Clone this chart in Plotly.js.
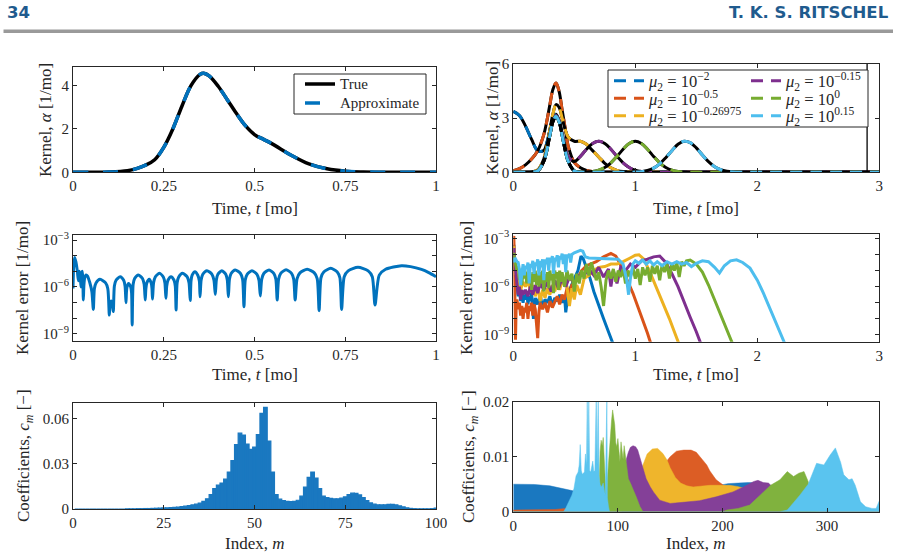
<!DOCTYPE html>
<html>
<head>
<meta charset="utf-8">
<script src="https://cdn.plot.ly/plotly-3.0.1.min.js"></script>
<style>
  html, body { margin: 0; padding: 0; background: #fff; }
  #fig { width: 898px; height: 559px; }
</style>
</head>
<body>
<div id="fig"></div>
<script>
// ---------- Kernel: true vs approximate (top left) ----------
const kernelT    = [0, 0.05, 0.1, 0.15, 0.175, 0.2, 0.225, 0.25, 0.275, 0.3, 0.325, 0.35, 0.36, 0.375, 0.4, 0.425, 0.45, 0.475, 0.5, 0.525, 0.55, 0.6, 0.65, 0.7, 0.75, 0.8, 0.85, 0.9, 1.0];
const kernelTrue = [0, 0.002, 0.01, 0.07, 0.17, 0.33, 0.58, 1.15, 2.0, 3.05, 4.0, 4.52, 4.57, 4.45, 3.97, 3.35, 2.72, 2.15, 1.74, 1.52, 1.3, 0.8, 0.39, 0.16, 0.05, 0.015, 0.004, 0.001, 0];

// ---------- Kernels for different mu2 (top right) ----------
const muT      = [0, 0.05, 0.1, 0.15, 0.2, 0.25, 0.275, 0.3, 0.325, 0.35, 0.375, 0.4, 0.425, 0.45, 0.5, 0.55, 0.6, 0.65, 0.7, 0.75, 0.8, 0.85, 0.9, 0.95, 1.0, 1.05, 1.1, 1.15, 1.2, 1.25, 1.3, 1.35, 1.4, 1.45, 1.5, 1.55, 1.6, 1.65, 1.7, 1.75, 1.8, 1.9, 2.0, 2.5, 3.0];
const muBlue   = [3.37, 3.15, 2.56, 1.82, 1.2, 1.21, 1.64, 2.34, 2.99, 3.22, 2.87, 2.09, 1.25, 0.61, 0.08, 0.004, 0, 0, 0, 0, 0, 0, 0, 0, 0, 0, 0, 0, 0, 0, 0, 0, 0, 0, 0, 0, 0, 0, 0, 0, 0, 0, 0, 0, 0];
const muOrange = [0.083, 0.199, 0.41, 0.734, 1.195, 2.09, 2.84, 3.75, 4.6, 4.95, 4.5, 3.47, 2.46, 1.45, 0.55, 0.25, 0.1, 0.04, 0.015, 0.005, 0.002, 0, 0, 0, 0, 0, 0, 0, 0, 0, 0, 0, 0, 0, 0, 0, 0, 0, 0, 0, 0, 0, 0, 0, 0];
const muYellow = [0, 0, 0.003, 0.023, 0.131, 0.74, 1.435, 2.36, 3.24, 3.75, 3.6, 3.01, 2.38, 1.95, 1.72, 1.72, 1.55, 1.2, 0.85, 0.5, 0.25, 0.11, 0.04, 0.012, 0.003, 0, 0, 0, 0, 0, 0, 0, 0, 0, 0, 0, 0, 0, 0, 0, 0, 0, 0, 0, 0];
const muPurple = [0, 0, 0, 0.004, 0.076, 0.604, 1.228, 2.065, 2.827, 3.146, 2.876, 2.17, 1.403, 0.87, 0.602, 0.884, 1.28, 1.6, 1.72, 1.6, 1.28, 0.88, 0.527, 0.27, 0.12, 0.046, 0.015, 0.004, 0.001, 0, 0, 0, 0, 0, 0, 0, 0, 0, 0, 0, 0, 0, 0, 0, 0];
const muGreen  = [0, 0, 0, 0.004, 0.075, 0.6, 1.22, 2.05, 2.8, 3.1, 2.8, 2.05, 1.22, 0.6, 0.076, 0.008, 0.015, 0.046, 0.12, 0.27, 0.527, 0.88, 1.28, 1.6, 1.72, 1.6, 1.28, 0.88, 0.527, 0.27, 0.12, 0.046, 0.015, 0.004, 0.001, 0, 0, 0, 0, 0, 0, 0, 0, 0, 0];
const muLight  = [0, 0, 0, 0.004, 0.075, 0.6, 1.22, 2.05, 2.8, 3.1, 2.8, 2.05, 1.22, 0.6, 0.075, 0.004, 0, 0, 0, 0, 0, 0, 0, 0, 0.012, 0.037, 0.1, 0.23, 0.47, 0.81, 1.2, 1.55, 1.72, 1.64, 1.35, 0.96, 0.59, 0.31, 0.14, 0.056, 0.019, 0.001, 0, 0, 0];
const cutoffT  = [2.9, 2.9];
const cutoffY  = [0, 6];
const muLabels = ['10<sup>−2</sup>', '10<sup>−0.5</sup>', '10<sup>−0.26975</sup>', '10<sup>−0.15</sup>', '10<sup>0</sup>', '10<sup>0.15</sup>'];

// ---------- Kernel error, single kernel (middle left), log10 values ----------
const errT = [0, 0.002, 0.0046, 0.008, 0.012, 0.0147, 0.0175, 0.02, 0.022, 0.024, 0.0257, 0.027, 0.0285, 0.03, 0.032, 0.036, 0.04, 0.046, 0.052, 0.056,
  0.0589, 0.0634, 0.0744, 0.0898, 0.0959, 0.1, 0.1015, 0.105, 0.109, 0.111, 0.114, 0.1186, 0.13, 0.1396, 0.1434, 0.146, 0.1471, 0.1488, 0.153, 0.159, 0.1614, 0.163,
  0.1657, 0.1698, 0.18, 0.1914, 0.196, 0.199, 0.2008, 0.2034, 0.21, 0.2154, 0.2176, 0.219, 0.222, 0.2266, 0.238, 0.2488, 0.2531, 0.256, 0.2582, 0.2616, 0.27, 0.2784, 0.2818, 0.284,
  0.2869, 0.2912, 0.302, 0.3146, 0.3196, 0.323, 0.3251, 0.3282, 0.336, 0.3438, 0.3481, 0.35, 0.353, 0.3576, 0.369, 0.3828, 0.3883, 0.392, 0.3949, 0.3992, 0.41, 0.4208, 0.4251, 0.428,
  0.431, 0.4356, 0.447, 0.4614, 0.4672, 0.471, 0.4745, 0.4798, 0.493, 0.5068, 0.5123, 0.516, 0.5198, 0.5256, 0.54, 0.5535, 0.5589, 0.5625, 0.5664, 0.5723, 0.587, 0.602, 0.608, 0.612,
  0.6173, 0.6252, 0.645, 0.6648, 0.6727, 0.678, 0.6831, 0.6908, 0.71, 0.728, 0.7352, 0.74, 0.7472, 0.758, 0.785, 0.8132, 0.8245, 0.832, 0.8437, 0.8612, 0.905, 0.93, 0.96, 0.98, 1.0];
const errLog10 = [-6.09, -4.6, -4.11, -4.4, -5.0, -5.6, -5.0, -5.3, -6.0, -5.2, -5.0, -5.5, -6.83, -5.9, -5.45, -5.23, -5.3, -5.7, -6.3, -7.43,
  -6.11, -5.74, -5.51, -5.74, -6.11, -7.79, -7.3, -6.9, -7.2, -7.57, -5.94, -5.57, -5.34, -5.57, -5.94, -7.0, -6.37, -6.0, -5.77, -6.0, -6.37, -8.43,
  -5.83, -5.46, -5.23, -5.46, -5.83, -6.83, -6.11, -5.74, -5.51, -5.74, -6.11, -6.77, -5.73, -5.36, -5.13, -5.36, -5.73, -6.72, -5.94, -5.57, -5.34, -5.57, -5.94, -7.47,
  -5.73, -5.36, -5.13, -5.36, -5.73, -6.87, -5.62, -5.25, -5.02, -5.25, -5.62, -6.62, -5.56, -5.19, -4.96, -5.19, -5.56, -6.47, -5.56, -5.19, -4.96, -5.19, -5.56, -6.62,
  -5.51, -5.14, -4.91, -5.14, -5.51, -7.26, -5.56, -5.19, -4.96, -5.19, -5.56, -6.57, -5.51, -5.14, -4.91, -5.14, -5.51, -6.83, -5.5, -5.13, -4.9, -5.13, -5.5, -6.83,
  -5.47, -5.1, -4.87, -5.1, -5.47, -7.51, -5.41, -5.04, -4.81, -5.04, -5.41, -7.43, -5.34, -4.97, -4.74, -4.97, -5.34, -7.15, -5.24, -4.87, -4.64, -4.7, -4.88, -5.08, -5.34];

// ---------- Kernel error for each mu2 (middle right), log10 values ----------
const eBlueT = [0, 0.005, 0.012, 0.02, 0.03, 0.04, 0.05, 0.06, 0.07, 0.08, 0.09, 0.1, 0.11, 0.12, 0.13, 0.14, 0.15, 0.165, 0.18, 0.2, 0.22, 0.24, 0.26, 0.28, 0.3, 0.32, 0.34, 0.36, 0.38, 0.4, 0.42, 0.43, 0.45, 0.47, 0.5, 0.53, 0.555, 0.575, 0.6, 0.63, 0.66, 0.7, 0.74, 0.78, 0.82];
const eBlue  = [-5.0, -3.4, -4.6, -5.3, -6.2, -6.6, -6.1, -6.9, -6.4, -7.0, -6.5, -6.8, -6.3, -7.1, -6.6, -6.9, -6.4, -8.0, -6.7, -7.1, -6.5, -7.3, -6.8, -7.0, -6.6, -7.2, -6.7, -6.9, -6.5, -7.0, -6.6, -7.6, -6.4, -6.0, -5.5, -5.0, -4.1, -4.3, -4.8, -5.5, -6.3, -7.2, -8.0, -8.8, -9.6];
const eOrangeT = [0, 0.004, 0.008, 0.012, 0.018, 0.024, 0.03, 0.04, 0.05, 0.06, 0.07, 0.08, 0.09, 0.1, 0.11, 0.12, 0.13, 0.14, 0.15, 0.16, 0.17, 0.18, 0.19, 0.2, 0.21, 0.22, 0.24, 0.26, 0.28, 0.3, 0.32, 0.34, 0.36, 0.38, 0.4, 0.42, 0.44, 0.46, 0.48, 0.5, 0.52, 0.56, 0.6, 0.68, 0.74, 0.8, 0.84, 0.87, 0.9, 0.94, 0.98, 1.02, 1.06, 1.1, 1.13];
const eOrange  = [-3.2, -2.85, -4.0, -6.5, -9.3, -7.0, -6.8, -7.4, -7.0, -7.8, -7.2, -8.0, -7.3, -7.6, -7.0, -8.0, -7.2, -7.5, -7.0, -7.8, -7.1, -7.4, -8.3, -9.2, -7.6, -7.0, -7.4, -7.0, -7.6, -6.9, -7.3, -7.0, -6.6, -7.1, -6.5, -6.8, -6.1, -6.4, -5.9, -5.8, -5.6, -5.0, -4.7, -4.45, -4.15, -3.93, -4.1, -4.5, -4.97, -5.7, -6.4, -7.2, -8.0, -8.9, -9.6];
const eYellowT = [0, 0.004, 0.01, 0.02, 0.04, 0.06, 0.08, 0.1, 0.12, 0.14, 0.16, 0.18, 0.2, 0.22, 0.24, 0.26, 0.28, 0.3, 0.32, 0.34, 0.36, 0.38, 0.4, 0.42, 0.44, 0.46, 0.48, 0.5, 0.52, 0.55, 0.58, 0.62, 0.66, 0.7, 0.75, 0.8, 0.85, 0.9, 0.95, 1.0, 1.03, 1.07, 1.12, 1.16, 1.2, 1.24, 1.28, 1.32, 1.36];
const eYellow  = [-3.8, -3.5, -4.6, -5.2, -5.5, -6.2, -5.7, -6.0, -5.6, -6.3, -5.9, -6.6, -6.0, -6.9, -6.2, -6.7, -6.1, -6.5, -5.9, -6.3, -5.7, -6.2, -5.6, -5.9, -6.0, -7.2, -6.1, -6.8, -5.9, -6.5, -5.5, -5.3, -5.0, -4.8, -4.75, -4.6, -4.6, -4.45, -4.25, -4.05, -4.02, -4.3, -5.1, -5.8, -6.6, -7.3, -8.0, -8.8, -9.6];
const ePurpleT = [0, 0.005, 0.01, 0.02, 0.03, 0.04, 0.05, 0.06, 0.07, 0.08, 0.1, 0.12, 0.14, 0.16, 0.18, 0.2, 0.22, 0.25, 0.28, 0.31, 0.34, 0.37, 0.4, 0.43, 0.46, 0.5, 0.54, 0.58, 0.62, 0.66, 0.7, 0.74, 0.78, 0.8, 0.82, 0.85, 0.88, 0.92, 0.96, 1.0, 1.05, 1.1, 1.15, 1.2, 1.25, 1.3, 1.35, 1.4, 1.45, 1.5, 1.54];
const ePurple  = [-4.0, -3.6, -4.4, -5.0, -5.8, -6.5, -6.0, -6.8, -6.2, -6.5, -6.2, -6.6, -6.0, -6.5, -5.9, -6.4, -5.8, -6.2, -5.7, -6.3, -5.6, -6.1, -5.5, -6.0, -5.4, -5.8, -5.3, -5.3, -4.9, -5.3, -4.8, -5.4, -4.9, -6.0, -5.0, -5.8, -4.8, -5.0, -4.6, -4.8, -4.4, -4.3, -4.15, -4.1, -4.5, -5.2, -6.0, -7.0, -7.9, -8.8, -9.6];
const eGreenT = [0, 0.005, 0.01, 0.02, 0.03, 0.04, 0.05, 0.06, 0.07, 0.08, 0.09, 0.1, 0.11, 0.12, 0.13, 0.14, 0.15, 0.16, 0.17, 0.18, 0.19, 0.2, 0.21, 0.22, 0.23, 0.24, 0.25, 0.26, 0.27, 0.28, 0.29, 0.3, 0.31, 0.32, 0.33, 0.34, 0.35, 0.36, 0.37, 0.38, 0.39, 0.4,
  0.42, 0.44, 0.46, 0.48, 0.5, 0.52, 0.54, 0.56, 0.58, 0.6, 0.62, 0.64, 0.66, 0.68, 0.7, 0.72, 0.74, 0.76, 0.78, 0.8, 0.82, 0.84, 0.86, 0.88, 0.9, 0.92, 0.94, 0.96, 0.98, 1.0,
  1.02, 1.04, 1.06, 1.08, 1.1, 1.12, 1.14, 1.16, 1.18, 1.2, 1.22, 1.24, 1.26, 1.28, 1.3, 1.32, 1.34, 1.36, 1.38, 1.4, 1.42, 1.45, 1.5, 1.55, 1.6, 1.65, 1.7, 1.75, 1.8];
const eGreen  = [-4.2, -3.9, -4.3, -4.6, -5.0, -4.7, -5.6, -4.9, -5.9, -5.0, -5.5, -5.1, -5.8, -5.0, -5.6, -5.2, -6.2, -5.1, -5.7, -5.0, -5.9, -5.2, -6.0, -5.1, -5.8, -5.0, -6.3, -5.2, -5.7, -5.1,
  -6.1, -5.0, -5.6, -5.2, -6.4, -5.0, -5.5, -5.1, -6.2, -5.0, -5.7, -5.1, -6.0, -5.0, -5.6, -5.2, -6.3, -5.2, -5.8, -5.0, -5.5, -4.6, -5.3, -4.5, -5.0, -5.6, -5.1, -6.0, -7.2, -5.6,
  -5.0, -5.5, -4.9, -5.7, -5.0, -5.4, -4.9, -5.8, -5.0, -5.4, -4.8, -5.5, -4.9, -5.9, -4.8, -5.3, -4.8, -5.7, -4.7, -5.2, -4.7, -5.6, -4.6, -5.1, -4.6, -5.5, -4.55, -5.0, -4.5, -5.4,
  -4.45, -4.7, -4.4, -4.35, -4.6, -5.1, -5.9, -6.8, -7.7, -8.6, -9.6];
const eLightT = [0, 0.005, 0.01, 0.02, 0.03, 0.04, 0.05, 0.06, 0.07, 0.08, 0.09, 0.1, 0.11, 0.12, 0.13, 0.14, 0.15, 0.16, 0.17, 0.18, 0.19, 0.2, 0.21, 0.22, 0.23, 0.24, 0.25, 0.26, 0.27, 0.28, 0.29, 0.3, 0.31, 0.32, 0.33, 0.34, 0.35, 0.36, 0.37, 0.38, 0.39, 0.4, 0.41, 0.42, 0.43, 0.44, 0.45, 0.46, 0.47, 0.48,
  0.5, 0.52, 0.55, 0.57, 0.59, 0.62, 0.7, 0.8, 0.86, 0.9, 0.93, 0.945, 0.96, 0.98, 1.0, 1.03, 1.06, 1.09, 1.12, 1.15, 1.18, 1.22, 1.26, 1.3, 1.34, 1.38, 1.42, 1.46, 1.5, 1.55, 1.6, 1.65, 1.69, 1.73, 1.78, 1.83, 1.88, 1.94, 2.0, 2.05, 2.1, 2.15, 2.2, 2.24];
const eLight  = [-4.5, -4.2, -4.4, -4.3, -4.45, -4.5, -4.9, -5.9, -5.2, -4.6, -5.3, -4.7, -4.9, -4.5, -5.8, -4.6, -4.8, -4.4, -5.2, -4.5, -4.7, -4.3, -5.3, -4.4, -4.8, -4.3, -5.6, -4.3, -4.6, -4.2,
  -5.0, -4.2, -4.5, -4.1, -5.2, -4.2, -4.4, -4.05, -4.8, -4.1, -4.3, -3.95, -4.6, -4.0, -5.1, -4.0, -4.2, -3.95, -4.5, -4.0,
  -3.9, -3.85, -3.75, -3.8, -4.15, -4.22, -4.24, -4.25, -4.3, -4.6, -5.6, -6.5, -5.5, -4.6, -4.4, -4.55, -4.35, -4.6, -4.4, -4.65, -4.45, -4.7, -4.45, -4.6, -4.45, -4.6, -4.5, -4.75, -4.55, -4.4,
  -4.45, -4.8, -5.15, -4.7, -4.4, -4.33, -4.5, -4.85, -5.6, -6.4, -7.3, -8.2, -9.1, -9.8];

// ---------- Coefficients c_m, single kernel (bottom left), m = 1..100 ----------
const coefs = [0, 0, 0, 0, 0, 0, 0, 0, 0, 0, 0, 0, 0, 0, 0.0001, 0.0001, 0.0001, 0.0002, 0.0002, 0.0003,
  0.0003, 0.0004, 0.0005, 0.0006, 0.0007, 0.0008, 0.0009, 0.0011, 0.0013, 0.0016, 0.0019, 0.0023, 0.0027, 0.0032, 0.0039, 0.005, 0.0068, 0.0095, 0.0135, 0.0158,
  0.0172, 0.0198, 0.0245, 0.032, 0.0427, 0.0502, 0.049, 0.043, 0.0395, 0.041, 0.0493, 0.0633, 0.0673, 0.045, 0.0245, 0.0095, 0.0065, 0.0055, 0.005, 0.0049,
  0.0051, 0.0058, 0.0085, 0.0145, 0.021, 0.0245, 0.0205, 0.0135, 0.0085, 0.0075, 0.007, 0.0067, 0.0068, 0.0072, 0.008, 0.0095, 0.0105, 0.0103, 0.0093, 0.0075,
  0.0055, 0.004, 0.0032, 0.0028, 0.0027, 0.0028, 0.003, 0.003, 0.0027, 0.0021, 0.0014, 0.0008, 0.0004, 0.0002, 0.0001, 0.0001, 0.0001, 0.0001, 0.0002, 0.0006];

// ---------- Coefficients c_m for each mu2 (bottom right) ----------
const cBlueM   = [0, 20, 35, 47, 57, 70, 100, 130, 160, 190, 205, 215, 225, 235, 245, 255, 265, 275, 285, 350];
const cBlue    = [0.005, 0.00495, 0.0047, 0.0042, 0.0038, 0.0034, 0.003, 0.0033, 0.0038, 0.0045, 0.0051, 0.0052, 0.0053, 0.0052, 0.0045, 0.003, 0.0012, 0.0003, 0, 0];
const cOrangeM = [0, 20, 40, 50, 60, 80, 100, 120, 135, 145, 150, 156, 163, 170, 175, 180, 185, 188, 194, 201, 205, 215, 230, 250, 270, 290, 350];
const cOrange  = [0.0003, 0.0003, 0.0004, 0.0006, 0.0012, 0.0025, 0.0045, 0.0068, 0.0082, 0.0088, 0.01, 0.011, 0.0112, 0.0112, 0.0108, 0.0096, 0.0085, 0.0074, 0.0058, 0.0048, 0.0046, 0.004, 0.003, 0.0015, 0.0004, 0, 0];
const cYellowM = [0, 100, 110, 118, 124, 128, 133, 138, 143, 147, 150, 155, 160, 166, 172, 180, 188, 200, 207, 214, 220, 230, 240, 250, 260, 270, 280, 350];
const cYellow  = [0, 0, 0.0015, 0.005, 0.0085, 0.0105, 0.0114, 0.0115, 0.0106, 0.0094, 0.008, 0.0062, 0.0052, 0.0047, 0.0045, 0.0046, 0.0048, 0.0048, 0.0048, 0.0046, 0.0043, 0.0036, 0.0028, 0.0018, 0.0008, 0.0002, 0, 0];
const cPurpleM = [0, 104, 106, 108, 110, 112, 114.5, 117, 119, 122.5, 127, 131, 134, 140, 150, 162, 178, 194, 210, 220, 230, 234, 239, 244, 248, 252, 258, 265, 275, 350];
const cPurple  = [0, 0, 0.004, 0.0095, 0.0108, 0.0117, 0.012, 0.0118, 0.0112, 0.0091, 0.006, 0.0045, 0.0036, 0.0021, 0.0015, 0.0017, 0.002, 0.0027, 0.0036, 0.0045, 0.0055, 0.0057, 0.0053, 0.0052, 0.0045, 0.003, 0.0015, 0.0005, 0, 0];
const cGreenM  = [0, 81, 82, 83, 84, 85, 86, 87, 88, 89, 90, 91, 92, 93, 94, 95, 96, 97, 98, 99, 100, 101, 102, 103, 104, 105, 106, 107, 108, 110, 112, 115, 118, 121, 124,
  200, 204, 215, 226, 236, 246, 255, 262, 268, 273, 278, 282, 285, 288, 292, 350];
const cGreen   = [0, 0, 0.004, 0.011, 0.013, 0.012, 0.0135, 0.009, 0.0035, 0.0015, 0.006, 0.009, 0.0125, 0.015, 0.0167, 0.0185, 0.017, 0.0158, 0.0125, 0.0118, 0.0133, 0.011, 0.0091, 0.0127, 0.011, 0.0095, 0.012, 0.0105, 0.0085, 0.006, 0.0052, 0.004, 0.0025, 0.001, 0,
  0, 0.0003, 0.0006, 0.0012, 0.003, 0.0048, 0.0058, 0.0073, 0.0064, 0.007, 0.0073, 0.0055, 0.003, 0.001, 0, 0];
const cLightM  = [0, 48, 50, 53, 56, 58, 60, 62, 63, 64, 65, 66, 67, 68, 69, 70, 70.7, 71.4, 72.2, 73, 74, 75, 76, 77, 78, 79.3, 80.2, 81.2, 82, 83, 84, 85, 86, 87, 88, 89.5, 90, 91, 92,
  255, 262, 274, 282, 290, 297, 303, 308, 313, 316, 321, 324, 327, 332, 337, 343, 347, 350];
const cLight   = [0, 0, 0.0006, 0.0018, 0.003, 0.0042, 0.0065, 0.0072, 0.0085, 0.0122, 0.0075, 0.0068, 0.007, 0.0072, 0.0105, 0.0085, 0.0215, 0.009, 0.0215, 0.0075, 0.0072, 0.008, 0.0092, 0.0073, 0.0075, 0.0215, 0.0085, 0.0215, 0.0065, 0.005, 0.0045, 0.0048, 0.0052, 0.004, 0.003, 0.0215, 0.0025, 0.001, 0,
  0, 0.0003, 0.003, 0.005, 0.0088, 0.0085, 0.0103, 0.0116, 0.009, 0.0067, 0.0058, 0.006, 0.0048, 0.0018, 0.0009, 0.0006, 0.0006, 0.002];

// ---------- styling ----------
const W = 898, H = 559;
const px = x => x / W;          // pixel column -> paper x
const py = y => 1 - y / H;      // pixel row    -> paper y
const INK = '#262626';
const SERIF = 'Liberation Serif, Times New Roman, serif';
const LINE = { blue: '#0072BD', orange: '#D95319', yellow: '#EDB120', purple: '#7E2F8E', green: '#77AC30', light: '#4DBEEE' };
const FILL = { blue: '#1a78c0', orange: '#dc5d25', yellow: '#efb52c', purple: '#844098', green: '#80b23e', light: '#5ac4ef' };
const pow10 = a => a.map(v => Math.pow(10, v));
const legendText = s => '<i>μ</i><sub>2</sub> = ' + s;

const traces = [];

// top left
traces.push({ x: kernelT, y: kernelTrue, xaxis: 'x', yaxis: 'y', mode: 'lines', name: '<span style="font-size:15px">True</span>',
  line: { color: '#000', width: 3.5, shape: 'spline' }, legend: 'legend' });
traces.push({ x: kernelT, y: kernelTrue, xaxis: 'x', yaxis: 'y', mode: 'lines', name: '<span style="font-size:15px">Approximate</span>',
  line: { color: LINE.blue, width: 3.5, dash: '15px,15px', shape: 'spline' }, legend: 'legend' });

// top right: black true kernel under each coloured dashed approximation
const muSeries = [muBlue, muOrange, muYellow, muPurple, muGreen, muLight];
const keys = ['blue', 'orange', 'yellow', 'purple', 'green', 'light'];
const muLegendIds = ['legend2', 'legend3', 'legend4', 'legend5', 'legend6', 'legend7'];
muSeries.forEach((ys, i) => {
  traces.push({ x: muT, y: ys, xaxis: 'x2', yaxis: 'y2', mode: 'lines', showlegend: false,
    line: { color: '#000', width: 3, shape: 'spline' } });
  traces.push({ x: muT, y: ys, xaxis: 'x2', yaxis: 'y2', mode: 'lines', name: legendText(muLabels[i]),
    legend: muLegendIds[i],
    line: { color: LINE[keys[i]], width: 3, dash: '12px,8px', shape: 'spline' } });
});
traces.push({ x: cutoffT, y: cutoffY, xaxis: 'x2', yaxis: 'y2', mode: 'lines', showlegend: false,
  line: { color: '#000', width: 1.3 } });

// middle left
traces.push({ x: errT, y: pow10(errLog10), xaxis: 'x3', yaxis: 'y3', mode: 'lines', showlegend: false,
  line: { color: LINE.blue, width: 3, shape: 'spline', smoothing: 0.7 } });

// middle right
[[eBlueT, eBlue], [eOrangeT, eOrange], [eYellowT, eYellow], [ePurpleT, ePurple], [eGreenT, eGreen], [eLightT, eLight]].forEach((s, i) => {
  traces.push({ x: s[0], y: pow10(s[1]), xaxis: 'x4', yaxis: 'y4', mode: 'lines', showlegend: false,
    line: { color: LINE[keys[i]], width: 3 } });
});

// bottom left
traces.push({ type: 'bar', x: coefs.map((_, i) => i + 1), y: coefs, width: 1, xaxis: 'x5', yaxis: 'y5', showlegend: false,
  marker: { color: FILL.blue, line: { color: FILL.blue, width: 1.2 } } });

// bottom right
[[cBlueM, cBlue], [cOrangeM, cOrange], [cYellowM, cYellow], [cPurpleM, cPurple], [cGreenM, cGreen], [cLightM, cLight]].forEach((s, i) => {
  traces.push({ x: s[0], y: s[1], xaxis: 'x6', yaxis: 'y6', mode: 'lines', fill: 'tozeroy', showlegend: false,
    fillcolor: FILL[keys[i]], line: { color: FILL[keys[i]], width: 0.5 } });
});

function axis(domain, range, tickvals, ticktext, anchor, extra) {
  return Object.assign({
    domain, range, tickmode: 'array', tickvals, ticktext, anchor,
    showline: true, mirror: 'ticks', linecolor: INK, linewidth: 1,
    ticks: 'inside', ticklen: 4, tickcolor: INK, tickwidth: 1,
    showgrid: false, zeroline: false, fixedrange: true,
    tickfont: { family: SERIF, size: 15, color: INK }
  }, extra || {});
}
const XL = [px(73), px(436)], XR = [px(513.3), px(879.3)];
const logMajor = [1e-9, 1e-6, 1e-3];
const logText = ['10<sup>−9</sup>', '10<sup>−6</sup>', '10<sup>−3</sup>'];
const logMinor = { tickmode: 'array', tickvals: [1e-8, 1e-7, 1e-5, 1e-4], ticks: 'inside', ticklen: 4, tickcolor: INK, tickwidth: 1, showgrid: false };

function label(text, x, y, vertical) {
  return { text, x: px(x), y: py(y), xref: 'paper', yref: 'paper', showarrow: false,
    textangle: vertical ? -90 : 0, xanchor: 'center', yanchor: 'middle',
    font: { family: SERIF, size: 17, color: INK } };
}
const legendBase = { orientation: 'v', xanchor: 'left', yanchor: 'top', bgcolor: 'rgba(0,0,0,0)', borderwidth: 0,
  font: { family: SERIF, size: 12, color: INK }, tracegroupgap: 0 };
// one single-entry legend per mu2 value, laid out as two columns of three rows
const muLegend = (x, y) => Object.assign({}, legendBase, { x: px(x), y: py(y), yanchor: 'middle',
  font: { family: SERIF, size: 16.5, color: INK } });

const layout = {
  width: W, height: H, margin: { l: 0, r: 0, t: 0, b: 0 },
  paper_bgcolor: '#fff', plot_bgcolor: '#fff', showlegend: true, hovermode: false,
  xaxis:  axis(XL, [0, 1], [0, 0.25, 0.5, 0.75, 1], ['0', '0.25', '0.5', '0.75', '1'], 'y'),
  yaxis:  axis([py(172.3), py(67)], [0, 4.86], [0, 2, 4], ['0', '2', '4'], 'x'),
  xaxis2: axis(XR, [0, 3], [0, 1, 2, 3], ['0', '1', '2', '3'], 'y2'),
  yaxis2: axis([py(172.3), py(64)], [0, 6], [0, 3, 6], ['0', '3', '6'], 'x2'),
  xaxis3: axis(XL, [0, 1], [0, 0.25, 0.5, 0.75, 1], ['0', '0.25', '0.5', '0.75', '1'], 'y3'),
  yaxis3: axis([py(340.7), py(235)], [-9.43, -2.68], logMajor, logText, 'x3', { type: 'log', minor: logMinor }),
  xaxis4: axis(XR, [0, 3], [0, 1, 2, 3], ['0', '1', '2', '3'], 'y4'),
  yaxis4: axis([py(341.7), py(234)], [-9.42, -2.73], logMajor, logText, 'x4', { type: 'log', minor: logMinor }),
  xaxis5: axis(XL, [0, 100], [0, 25, 50, 75, 100], ['0', '25', '50', '75', '100'], 'y5'),
  yaxis5: axis([py(509), py(403)], [0, 0.0702], [0, 0.03, 0.06], ['0', '0.03', '0.06'], 'x5'),
  xaxis6: axis(XR, [0, 350], [0, 100, 200, 300], ['0', '100', '200', '300'], 'y6'),
  yaxis6: axis([py(511.7), py(401.7)], [0, 0.02], [0, 0.01, 0.02], ['0', '0.01', '0.02'], 'x6'),
  legend:  Object.assign({}, legendBase, { x: px(300), y: py(69.5) }),
  legend2: muLegend(609, 81),
  legend3: muLegend(609, 98.5),
  legend4: muLegend(609, 116),
  legend5: muLegend(746, 81),
  legend6: muLegend(746, 98.5),
  legend7: muLegend(746, 116),
  shapes: [
    { type: 'rect', xref: 'paper', yref: 'paper', x0: px(3.5), x1: px(893), y0: py(33), y1: py(29.5),
      fillcolor: '#9a9a9a', line: { width: 0 } },
    { type: 'rect', xref: 'paper', yref: 'paper', x0: px(294), x1: px(426), y0: py(114), y1: py(74),
      fillcolor: '#fff', line: { color: INK, width: 1 }, layer: 'above' },
    { type: 'rect', xref: 'paper', yref: 'paper', x0: px(608), x1: px(868), y0: py(127), y1: py(70),
      fillcolor: '#fff', line: { color: INK, width: 1 }, layer: 'above' }
  ],
  annotations: [
    { text: '<b>34</b>', x: px(5), y: py(12), xref: 'paper', yref: 'paper', showarrow: false, xanchor: 'left', yanchor: 'middle',
      font: { family: 'DejaVu Sans, Open Sans, sans-serif', size: 16.5, color: '#1f5b8e' } },
    { text: '<b>T. K. S. RITSCHEL</b>', x: px(891), y: py(12), xref: 'paper', yref: 'paper', showarrow: false, xanchor: 'right', yanchor: 'middle',
      font: { family: 'DejaVu Sans, Open Sans, sans-serif', size: 16.5, color: '#1f5b8e' } },
    label('Time, <i>t</i> [mo]', 254.5, 208),
    label('Time, <i>t</i> [mo]', 696, 208),
    label('Time, <i>t</i> [mo]', 254.5, 374),
    label('Time, <i>t</i> [mo]', 696, 374),
    label('Index, <i>m</i>', 254.5, 543),
    label('Index, <i>m</i>', 696, 543),
    label('Kernel, <i>α</i> [1/mo]', 46, 120, true),
    label('Kernel, <i>α</i> [1/mo]', 492, 118, true),
    label('Kernel error [1/mo]', 22, 288, true),
    label('Kernel error [1/mo]', 466, 288, true),
    label('Coefficients, <i>c<sub>m</sub></i> [−]', 25, 456, true),
    label('Coefficients, <i>c<sub>m</sub></i> [−]', 470, 457, true)
  ]
};

Plotly.newPlot('fig', traces, layout, { staticPlot: true, displayModeBar: false });
</script>
</body>
</html>
